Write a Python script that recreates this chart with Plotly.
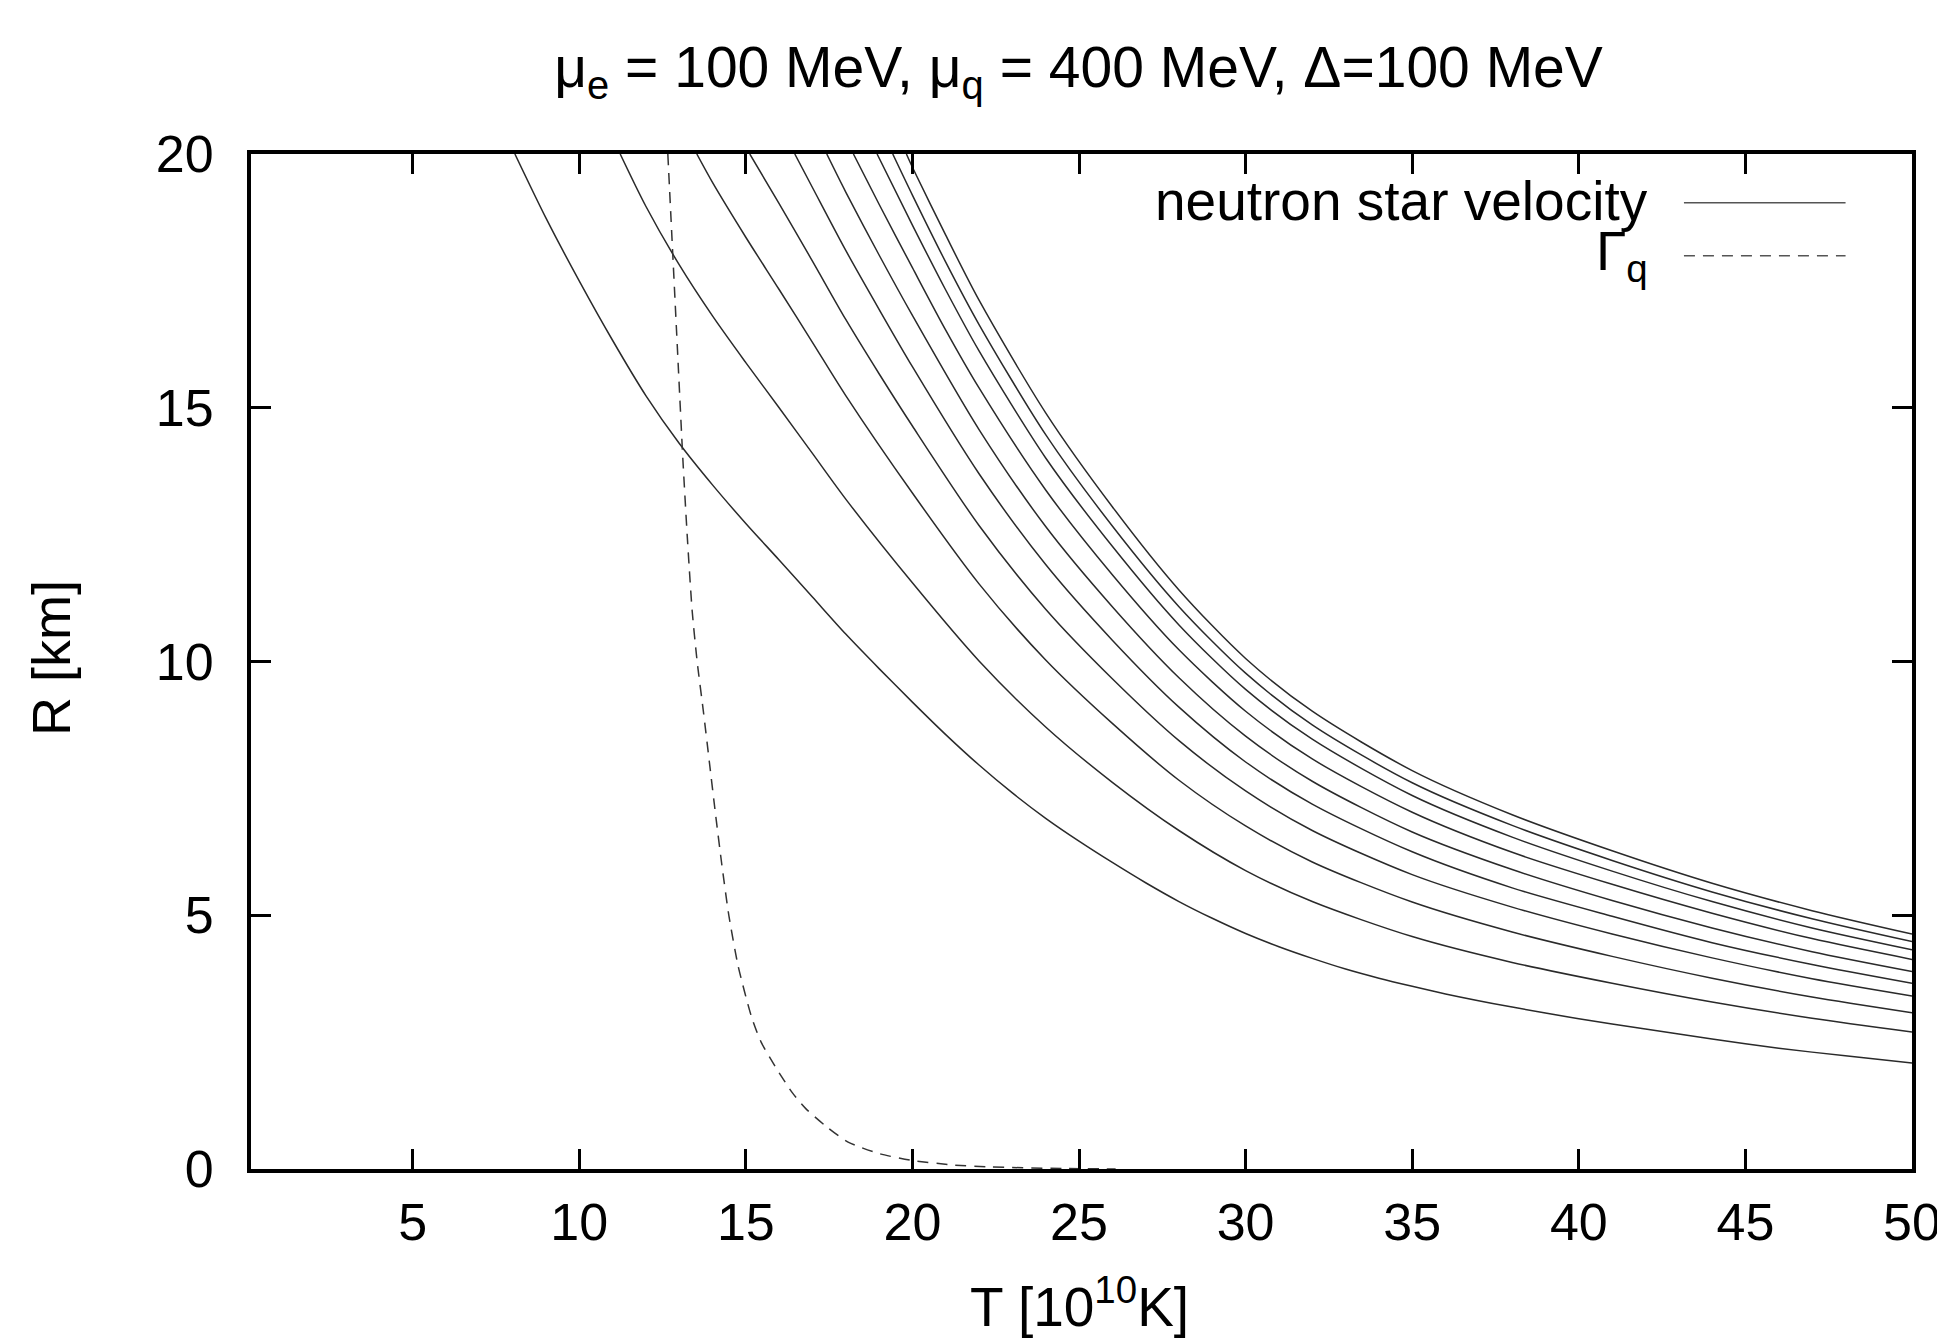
import plotly.graph_objects as go

# ---- data (T in 10^10 K, R in km) ----
T1 = [8.07, 9, 10, 11, 12, 13, 14, 15, 16, 17, 18, 19, 20, 21, 22, 23, 24, 25, 26, 27, 28, 29, 30, 31, 32, 33, 34, 35, 36, 38, 40, 42, 44, 46, 48, 50]
R1 = [20, 18.74, 17.5, 16.33, 15.24, 14.3, 13.48, 12.72, 12.0, 11.27, 10.54, 9.86, 9.2, 8.56, 7.96, 7.41, 6.91, 6.46, 6.04, 5.64, 5.27, 4.94, 4.64, 4.38, 4.15, 3.94, 3.76, 3.60, 3.45, 3.19, 2.96, 2.76, 2.56, 2.38, 2.23, 2.09]

T2 = [11.23, 12, 13, 14, 15, 16, 17, 18, 20, 22, 24, 26, 28, 30, 32, 35, 38, 41, 44, 47, 50]
R2 = [20, 18.97, 17.82, 16.81, 15.89, 15.0, 14.10, 13.20, 11.55, 10.01, 8.71, 7.62, 6.67, 5.88, 5.27, 4.58, 4.07, 3.66, 3.29, 2.97, 2.70]

T3 = [13.53, 14, 15, 16, 17, 18, 20, 22, 24, 26, 28, 30, 32, 35, 38, 41, 44, 47, 50]
R3 = [20, 19.44, 18.36, 17.33, 16.29, 15.24, 13.32, 11.53, 10.03, 8.78, 7.66, 6.76, 6.05, 5.26, 4.67, 4.19, 3.76, 3.39, 3.08]

T4 = [15.12, 16, 17, 18, 19, 20, 22, 24, 26, 28, 30, 32, 35, 38, 41, 44, 47, 50]
R4 = [20, 19.02, 17.89, 16.74, 15.67, 14.64, 12.68, 11.03, 9.66, 8.44, 7.45, 6.67, 5.80, 5.16, 4.63, 4.16, 3.75, 3.41]

T5 = [16.47, 17, 18, 19, 20, 22, 24, 26, 28, 30, 32, 35, 38, 41, 44, 47, 50]
R5 = [20, 19.34, 18.10, 16.94, 15.81, 13.70, 11.91, 10.42, 9.10, 8.02, 7.19, 6.25, 5.54, 4.98, 4.46, 4.03, 3.66]

T6 = [17.43, 18, 19, 20, 22, 24, 26, 28, 30, 32, 35, 38, 41, 44, 47, 50]
R6 = [20, 19.25, 18.01, 16.82, 14.57, 12.66, 11.08, 9.68, 8.53, 7.64, 6.64, 5.90, 5.29, 4.75, 4.28, 3.89]

T7 = [18.23, 19, 20, 21, 22, 24, 26, 28, 30, 32, 35, 38, 41, 44, 47, 50]
R7 = [20, 19.01, 17.76, 16.53, 15.39, 13.38, 11.71, 10.23, 9.02, 8.08, 7.03, 6.24, 5.61, 5.04, 4.54, 4.13]

T8 = [18.94, 20, 21, 22, 24, 26, 28, 30, 32, 35, 38, 41, 44, 47, 50]
R8 = [20, 18.60, 17.32, 16.12, 14.01, 12.27, 10.72, 9.45, 8.47, 7.36, 6.54, 5.87, 5.27, 4.75, 4.32]

T9 = [19.41, 20, 21, 22, 24, 26, 28, 30, 32, 35, 38, 41, 44, 47, 50]
R9 = [20, 19.19, 17.87, 16.64, 14.47, 12.67, 11.08, 9.77, 8.75, 7.61, 6.77, 6.08, 5.46, 4.93, 4.48]

T10 = [19.82, 20, 21, 22, 24, 26, 28, 30, 32, 35, 38, 41, 44, 47, 50]
R10 = [20, 19.74, 18.40, 17.12, 14.90, 13.05, 11.41, 10.06, 9.02, 7.85, 6.98, 6.27, 5.63, 5.09, 4.63]

TQ = [12.66, 12.81, 12.96, 13.11, 13.24, 13.39, 13.54, 13.73, 13.91, 14.09, 14.28, 14.49, 14.77, 15.17, 15.46, 15.9, 16.4, 16.8, 17.43, 18.07, 19.02, 19.98, 21.2, 22.36, 24.5, 26.1]
RQ = [20, 18, 16, 14, 12.5, 11, 10, 9, 8, 7, 6, 5, 4, 3, 2.5, 2, 1.5, 1.19, 0.83, 0.53, 0.3, 0.17, 0.08, 0.04, 0.01, 0.0]

X_TICKS = [5, 10, 15, 20, 25, 30, 35, 40, 45, 50]
Y_TICKS = [0, 5, 10, 15, 20]

FONT = "Liberation Sans, Arial, Helvetica, sans-serif"

fig = go.Figure()
velocity = [(T1, R1), (T2, R2), (T3, R3), (T4, R4), (T5, R5), (T6, R6), (T7, R7), (T8, R8), (T9, R9), (T10, R10)]
for t, r in velocity:
    fig.add_trace(go.Scatter(x=t, y=r, mode="lines", name="neutron star velocity",
                             line=dict(color="#2a2a2a", width=1.5, shape="spline", smoothing=0.8),
                             showlegend=False))
fig.add_trace(go.Scatter(x=TQ, y=RQ, mode="lines", name="Γq",
                         line=dict(color="#333333", width=1.5, dash="11px,8px", shape="spline", smoothing=0.6),
                         showlegend=False))

axis_common = dict(showline=True, linewidth=4, linecolor="black", mirror="allticks",
                   ticks="inside", ticklen=20, tickwidth=3, tickcolor="black",
                   showgrid=False, zeroline=False,
                   tickfont=dict(family=FONT, size=52, color="black"))

fig.update_xaxes(range=[0.15, 50], tickvals=X_TICKS, ticktext=[str(v) for v in X_TICKS],
                 ticklabelstandoff=5, **axis_common)
fig.update_yaxes(range=[0, 20], tickvals=Y_TICKS, ticktext=[str(v) for v in Y_TICKS],
                 ticklabelstandoff=23, **axis_common)

# legend drawn manually (text right-aligned, sample on the right, like gnuplot)
fig.add_annotation(xref="paper", yref="paper", x=0.842, y=0.9536, xanchor="right", yanchor="middle",
                   text="neutron star velocity", showarrow=False,
                   font=dict(family=FONT, size=55, color="black"))
fig.add_annotation(xref="paper", yref="paper", x=0.842, y=0.9005, xanchor="right", yanchor="middle",
                   text="Γ<sub>q</sub>", showarrow=False,
                   font=dict(family=FONT, size=55, color="black"))
fig.add_shape(type="line", xref="paper", yref="paper", x0=0.8627, x1=0.960, y0=0.952, y1=0.952,
              line=dict(color="#555555", width=1.5))
fig.add_shape(type="line", xref="paper", yref="paper", x0=0.8627, x1=0.960, y0=0.8997, y1=0.8997,
              line=dict(color="#555555", width=1.5, dash="11px,8px"))

# axis titles
fig.add_annotation(xref="paper", yref="paper", x=0.4985, y=-0.1319, xanchor="center", yanchor="middle",
                   text="T [10<sup>10</sup>K]", showarrow=False,
                   font=dict(family=FONT, size=55, color="black"))
fig.add_annotation(xref="paper", yref="paper", x=-0.1204, y=0.5035, xanchor="center", yanchor="middle",
                   text="R [km]", textangle=-90, showarrow=False,
                   font=dict(family=FONT, size=54, color="black"))

fig.update_layout(
    width=1945, height=1339,
    margin=dict(l=243, r=41, t=146, b=178),
    paper_bgcolor="white", plot_bgcolor="white",
    title=dict(text="μ<sub>e</sub> = 100 MeV, μ<sub>q</sub> = 400 MeV, Δ=100 MeV",
               x=0.5504, xanchor="center", y=0.9557, yanchor="middle",
               font=dict(family=FONT, size=57, color="black")),
    showlegend=False,
)

fig.write_html("out.html")
